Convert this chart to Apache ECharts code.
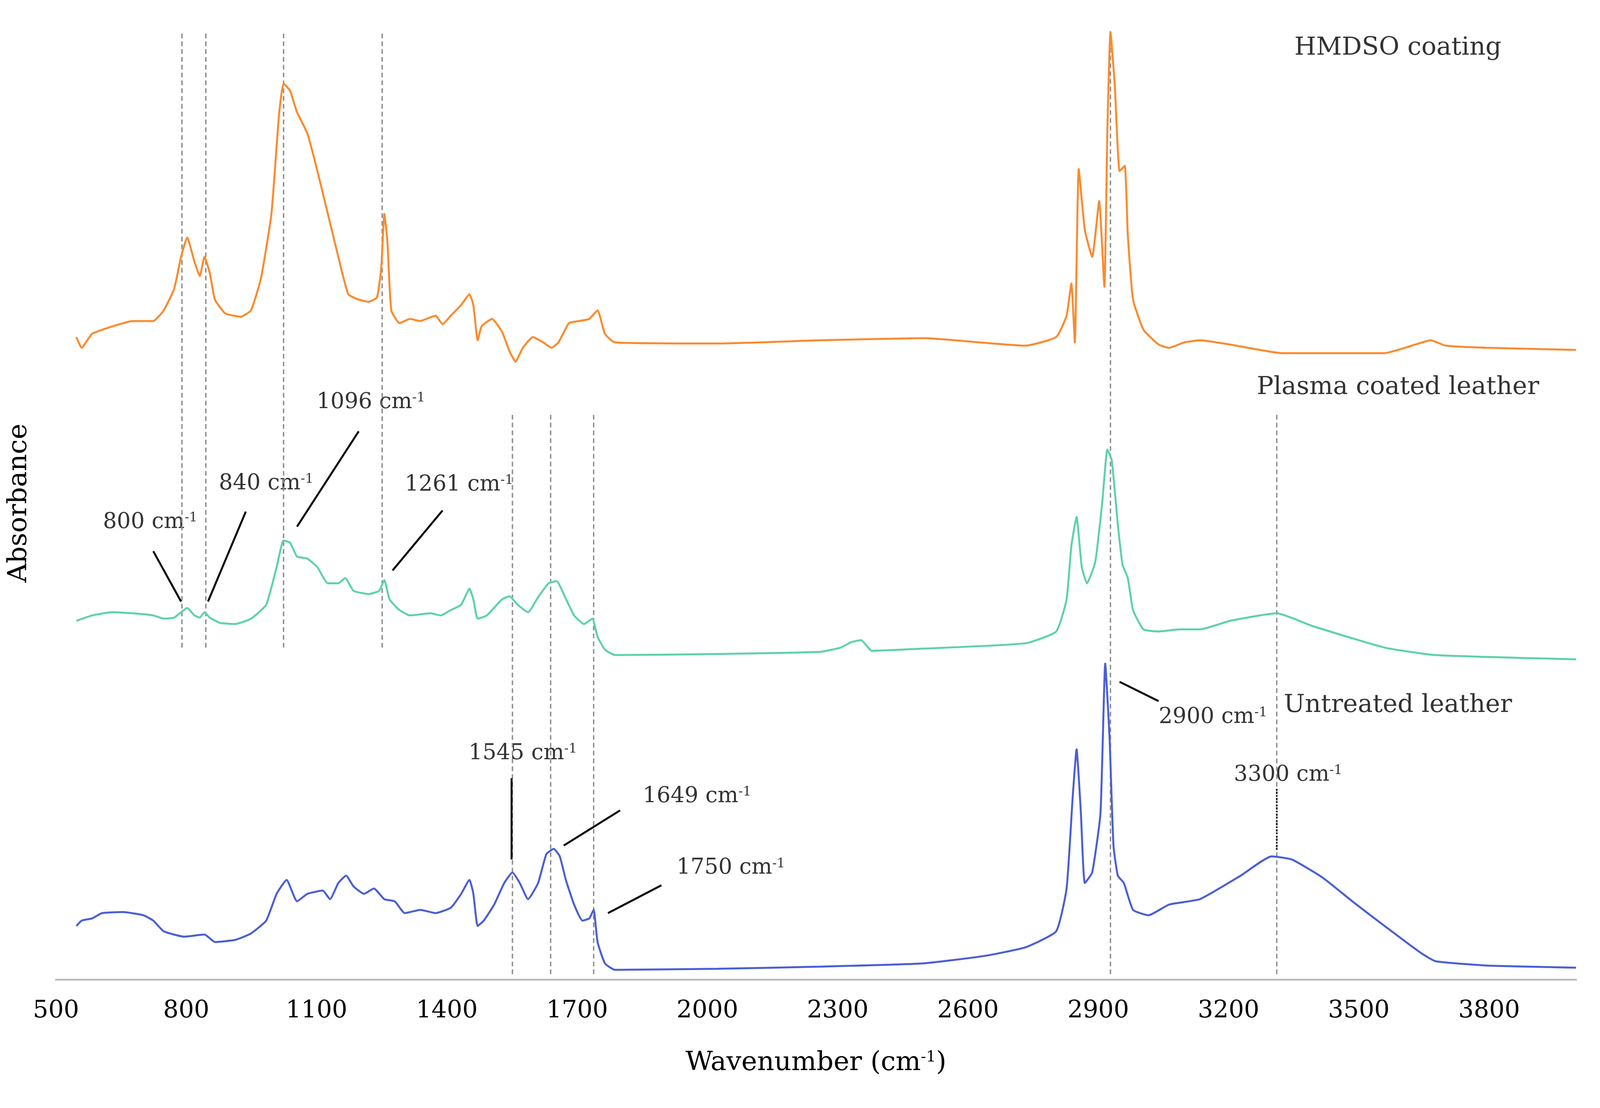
<!DOCTYPE html>
<html>
<head>
<meta charset="utf-8">
<script src="https://cdn.jsdelivr.net/npm/echarts@6/dist/echarts.min.js"></script>
<style>html,body{margin:0;background:#fff;overflow:hidden;width:100%;height:100%}#main{width:100vw;height:100vh}</style>
</head>
<body>
<div id="main"></div>
<script>
// wavenumbers (cm-1) and stacked absorbance (arbitrary units, offset per trace)
const hmdsoX = [547,559,583,630,677,724,748,772,788,802,819,831,842,854,866,890,925,949,972,996,1013,1024,1039,1055,1079,1102,1126,1150,1173,1197,1220,1239,1249,1256,1263,1272,1291,1315,1338,1374,1390,1409,1433,1452,1461,1471,1480,1504,1527,1544,1558,1575,1598,1622,1641,1657,1681,1705,1728,1747,1764,1787,2023,2260,2496,2732,2803,2827,2838,2846,2855,2869,2886,2902,2914,2921,2928,2938,2949,2961,2968,2980,3004,3039,3063,3098,3134,3204,3323,3441,3559,3630,3665,3700,3795,4000];
const hmdsoY = [600,590,603,610,615,615,625,645,675,693,670,657,675,660,635,622,619,625,655,715,805,837,830,810,790,755,715,675,640,635,633,637,665,715,690,625,613,617,615,620,612,620,630,640,630,597,610,617,605,587,577,590,600,595,590,595,613,615,617,625,603,595,594,597,599,592,600,620,650,595,757,700,675,727,647,795,885,835,755,760,695,635,607,593,590,595,597,593,585,585,585,593,597,592,590,588];

const plasmaX = [547,583,630,677,724,748,772,788,802,819,831,842,854,878,913,949,984,1008,1024,1039,1055,1079,1102,1126,1150,1166,1185,1220,1244,1256,1268,1291,1315,1362,1386,1409,1433,1452,1461,1471,1492,1527,1544,1563,1587,1610,1634,1653,1669,1693,1716,1735,1747,1764,1787,2023,2260,2307,2331,2354,2366,2378,2496,2732,2803,2827,2838,2850,2862,2874,2893,2909,2921,2931,2945,2956,2968,2980,3004,3039,3086,3134,3204,3311,3394,3559,3677,4000];
const plasmaY = [335,340,343,342,340,337,338,343,347,340,338,343,338,333,332,337,350,385,410,408,395,393,385,370,370,375,363,360,363,373,355,345,340,342,340,345,350,365,355,337,340,355,358,350,343,357,370,372,360,340,332,337,320,308,303,304,306,310,315,317,312,307,309,314,325,355,405,432,385,370,390,445,495,485,425,387,375,345,327,325,327,327,335,342,330,310,303,299];

const untreatedX = [547,559,583,606,654,701,724,748,795,842,866,913,949,984,1008,1031,1055,1079,1114,1131,1150,1168,1185,1209,1232,1256,1280,1303,1339,1374,1409,1433,1452,1461,1471,1485,1509,1532,1551,1568,1587,1610,1629,1646,1660,1674,1693,1712,1728,1738,1747,1764,1787,2023,2260,2496,2638,2732,2803,2827,2841,2850,2860,2869,2886,2905,2916,2926,2935,2945,2959,2980,3016,3063,3134,3228,3299,3346,3417,3488,3559,3642,3677,3795,4000];
const untreatedY = [50,55,57,62,63,60,55,45,40,42,35,37,43,55,80,93,73,80,83,75,90,97,87,80,85,75,73,62,65,62,67,80,93,80,50,55,70,90,100,90,75,90,117,122,115,93,70,55,57,65,35,15,9,10,12,15,22,30,45,85,170,215,155,90,100,155,295,225,125,97,90,65,60,70,75,97,115,112,95,72,50,25,17,13,11];

// dashed guide lines: [wavenumber, yFrom, yTo]
const guides = [[790,310,885],[845,310,885],[1024,310,885],[1251,310,885],[1551,5,530],[1639,5,530],[1738,5,530],[2928,5,885],[3311,5,530]];

// peak annotations: text position, leader line start/end
const peaks = [
  {t:'800 cm', x:717, y:427, l:[[724,400],[788,353]]},
  {t:'840 cm', x:984, y:463, l:[[937,437],[850,353]]},
  {t:'1096 cm', x:1225, y:539, l:[[1197,512],[1055,423]]},
  {t:'1261 cm', x:1428, y:462, l:[[1390,438],[1275,382]]},
  {t:'1545 cm', x:1575, y:211, l:[[1549,188],[1549,112]]},
  {t:'1649 cm', x:1976, y:171, l:[[1799,158],[1669,125]]},
  {t:'1750 cm', x:2054, y:104, l:[[1894,88],[1771,62]]},
  {t:'2900 cm', x:3164, y:245, l:[[3039,260],[2949,278]]},
  {t:'3300 cm', x:3337, y:191, l:[[3311,178],[3311,120]], dot:true}
];

const traceLabels = [['HMDSO coating',3590,870],['Plasma coated leather',3590,553],['Untreated leather',3590,256]];

const zip = (a, b) => a.map((v, i) => [v, b[i]]);
const serif = 'DejaVu Serif';
const rich = {a:{fontFamily:serif,fontSize:56,color:'#000'}, s:{fontFamily:serif,fontSize:34,color:'#000',verticalAlign:'top',padding:[0,0,22,0]}};

const series = [];
guides.forEach(g => series.push({type:'line', data:[[g[0],g[1]],[g[0],g[2]]], symbol:'none', silent:true,
  lineStyle:{color:'#8c8c8c', width:3.5, type:[12,8]}}));
[[hmdsoX,hmdsoY,'#fb8a2e'],[plasmaX,plasmaY,'#5dd1ad'],[untreatedX,untreatedY,'#4a5ed6']].forEach(s =>
  series.push({type:'line', data:zip(s[0],s[1]), symbol:'none', smooth:0.15, lineStyle:{color:s[2], width:5}}));
peaks.forEach(p => series.push({type:'line', data:p.l, symbol:'none', silent:true,
  lineStyle:{color:'#000', width:p.dot ? 4 : 5, type:p.dot ? 'dotted' : 'solid'}}));
series.push({type:'scatter', symbolSize:0, silent:true, data:peaks.map(p => [p.x, p.y, p.t]),
  label:{show:true, position:'inside', formatter:d => '{a|' + d.value[2] + '}{s|-1}', rich:rich}});
series.push({type:'scatter', symbolSize:0, silent:true, data:traceLabels.map(t => [t[1], t[2], t[0]]),
  label:{show:true, position:'inside', formatter:d => d.value[2], fontFamily:serif, fontSize:64, color:'#000'}});

const chart = echarts.init(document.getElementById('main'));
chart.setOption({
  animation:false,
  grid:{left:'3.5%', right:'1.5%', top:'2.4%', bottom:'11.6%'},
  xAxis:{type:'value', min:500, max:4000, interval:300,
    axisLine:{lineStyle:{color:'#bfbfbf', width:5}}, axisTick:{show:false}, splitLine:{show:false},
    axisLabel:{fontFamily:serif, fontSize:62, color:'#000', margin:50,
      formatter:v => v >= 4000 ? '' : v},
    name:'{a|Wavenumber (cm}{s|-1}{a|)}', nameLocation:'middle', nameGap:180,
    nameTextStyle:{rich:{a:{fontFamily:serif,fontSize:68,color:'#000'}, s:{fontFamily:serif,fontSize:40,color:'#000',verticalAlign:'top',padding:[0,0,26,0]}}}},
  yAxis:{type:'value', min:0, max:890, show:true,
    axisLine:{show:false}, axisTick:{show:false}, axisLabel:{show:false}, splitLine:{show:false},
    name:'Absorbance', nameLocation:'middle', nameGap:60, nameRotate:90,
    nameTextStyle:{fontFamily:serif, fontSize:68, color:'#000'}},
  series:series
});
window.addEventListener('resize', () => chart.resize());
</script>
</body>
</html>
